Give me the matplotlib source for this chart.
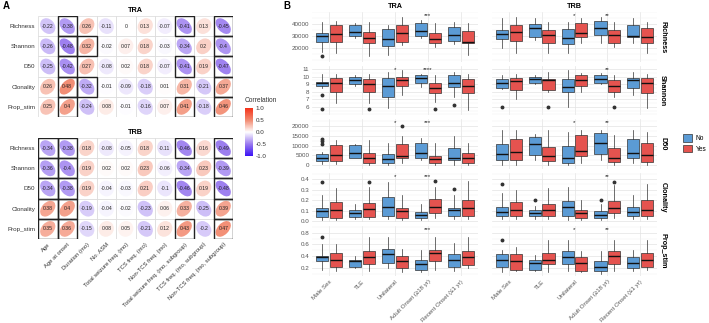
import numpy as np
import matplotlib
matplotlib.use('Agg')
import matplotlib.pyplot as plt
from matplotlib.patches import Ellipse, Rectangle, Patch
from matplotlib.colors import LinearSegmentedColormap, Normalize
from matplotlib.ticker import AutoMinorLocator
import matplotlib.cm as cm

plt.rcParams['font.family'] = ['Liberation Sans', 'DejaVu Sans']

# ---- panel A data ----
metrics = ['Richness', 'Shannon', 'D50', 'Clonality', 'Prop_stim']
clinical = ['Age', 'Age at onset', 'Duration (mo)', 'No. ASM', 'Total seizure freq. (mo)',
            'TCS freq. (mo)', 'Non-TCS freq. (mo)', 'Total seizure freq. (mo, subgroup)',
            'TCS freq. (mo, subgroup)', 'Non-TCS freq. (mo, subgroup)']

tra_corr = [
    [-0.22, -0.38, 0.26, -0.11, 0, 0.13, -0.07, -0.41, 0.13, -0.45],
    [-0.26, -0.48, 0.32, -0.02, 0.07, 0.18, -0.03, -0.34, 0.2, -0.4],
    [-0.25, -0.42, 0.27, -0.08, 0.02, 0.18, -0.07, -0.41, 0.19, -0.47],
    [0.26, 0.48, -0.32, -0.01, -0.09, -0.18, 0.01, 0.31, -0.21, 0.37],
    [0.25, 0.4, -0.24, 0.08, -0.01, -0.16, 0.07, 0.41, -0.18, 0.46],
]
trb_corr = [
    [-0.34, -0.38, 0.18, -0.08, -0.05, 0.18, -0.11, -0.46, 0.16, -0.49],
    [-0.36, -0.4, 0.19, 0.02, 0.02, 0.23, -0.06, -0.34, 0.23, -0.39],
    [-0.34, -0.38, 0.19, -0.04, -0.03, 0.21, -0.1, -0.46, 0.19, -0.48],
    [0.38, 0.4, -0.19, -0.04, -0.02, -0.23, 0.06, 0.33, -0.25, 0.39],
    [0.35, 0.36, -0.15, 0.08, 0.05, -0.21, 0.12, 0.43, -0.2, 0.47],
]
tra_sig = [
    [0, 1, 0, 0, 0, 0, 0, 1, 0, 1],
    [0, 1, 1, 0, 0, 0, 0, 0, 0, 1],
    [0, 1, 0, 0, 0, 0, 0, 1, 0, 1],
    [0, 1, 1, 0, 0, 0, 0, 0, 0, 1],
    [0, 1, 0, 0, 0, 0, 0, 1, 0, 1],
]
trb_sig = [
    [1, 1, 0, 0, 0, 0, 0, 1, 0, 1],
    [1, 1, 0, 0, 0, 0, 0, 0, 0, 1],
    [1, 1, 0, 0, 0, 0, 0, 1, 0, 1],
    [1, 1, 0, 0, 0, 0, 0, 0, 0, 1],
    [1, 1, 0, 0, 0, 0, 0, 1, 0, 1],
]

# ---- panel B data: (whislo, q1, med, q3, whishi) for No / Yes per category ----
categories = ['Male Sex', 'TLE', 'Unilateral', 'Adult Onset (≥18 yr)', 'Recent Onset (≤1 yr)']
groups = ['No', 'Yes']

tra_richness = [
    [(16700, 25000, 30000, 32500, 41700), (16000, 25000, 31700, 39000, 42500)],
    [(28500, 30000, 33300, 39500, 40500), (13300, 24000, 28300, 33300, 41700)],
    [(14000, 21700, 27500, 35800, 39000), (22500, 25000, 32500, 39000, 45800)],
    [(28000, 30000, 34000, 40800, 43000), (21000, 24000, 27500, 32500, 40800)],
    [(23000, 25800, 30800, 37500, 41700), (14000, 24000, 25000, 34000, 40800)],
]
tra_shannon = [
    [(8.5, 8.75, 9.1, 9.25, 10.3), (6.5, 8.0, 9.1, 9.8, 10.4)],
    [(8.8, 9.0, 9.5, 10.0, 10.2), (6.5, 8.0, 9.0, 9.7, 10.4)],
    [(5.9, 7.3, 8.7, 9.8, 10.6), (7.6, 8.8, 9.6, 10.0, 10.9)],
    [(8.6, 9.2, 9.8, 10.2, 10.4), (6.7, 7.8, 8.5, 9.2, 10.2)],
    [(7.3, 8.6, 9.2, 10.2, 10.6), (5.6, 7.8, 8.8, 9.7, 10.4)],
]
tra_d50 = [
    [(500, 2000, 3900, 5900, 6800), (500, 2000, 5400, 10200, 12700)],
    [(3500, 3900, 6300, 10200, 11000), (0, 1000, 3900, 6300, 13000)],
    [(0, 1000, 2900, 5900, 11200), (1000, 3400, 4900, 10700, 14600)],
    [(2400, 3900, 6300, 11200, 13700), (0, 1000, 2900, 4900, 11200)],
    [(0, 2400, 3900, 8800, 14600), (0, 1000, 3900, 6300, 11200)],
]
tra_clonality = [
    [(0.01, 0.04, 0.10, 0.13, 0.25), (0.01, 0.03, 0.11, 0.18, 0.32)],
    [(0.02, 0.04, 0.08, 0.11, 0.16), (0.02, 0.04, 0.12, 0.17, 0.33)],
    [(0.02, 0.05, 0.14, 0.23, 0.37), (0.01, 0.03, 0.10, 0.13, 0.25)],
    [(0.01, 0.03, 0.06, 0.09, 0.16), (0.03, 0.08, 0.14, 0.21, 0.33)],
    [(0.02, 0.05, 0.11, 0.13, 0.25), (0.02, 0.05, 0.13, 0.20, 0.38)],
]
tra_prop = [
    [(0.17, 0.31, 0.38, 0.41, 0.60), (0.15, 0.22, 0.34, 0.46, 0.60)],
    [(0.20, 0.22, 0.31, 0.34, 0.40), (0.14, 0.26, 0.38, 0.48, 0.73)],
    [(0.20, 0.29, 0.43, 0.53, 0.73), (0.12, 0.19, 0.31, 0.41, 0.53)],
    [(0.12, 0.17, 0.26, 0.34, 0.51), (0.17, 0.31, 0.46, 0.50, 0.73)],
    [(0.14, 0.22, 0.33, 0.43, 0.63), (0.20, 0.24, 0.39, 0.48, 0.73)],
]
trb_richness = [
    [(20000, 27500, 31700, 35000, 45000), (15800, 25800, 33300, 39000, 45800)],
    [(26700, 29000, 36700, 40000, 45000), (15800, 24000, 30800, 35000, 41700)],
    [(15800, 23300, 28300, 35800, 41700), (24000, 29200, 32500, 40800, 45000)],
    [(24000, 30800, 36700, 42500, 45800), (21000, 24000, 30800, 35000, 41700)],
    [(24000, 29000, 30000, 39000, 45000), (15800, 24000, 29000, 36700, 41700)],
]
trb_shannon = [
    [(8.4, 8.5, 9.1, 9.7, 10.2), (7.1, 8.2, 9.4, 9.8, 10.4)],
    [(9.0, 9.2, 9.7, 10.0, 10.2), (8.0, 8.2, 9.6, 9.7, 10.6)],
    [(6.0, 7.9, 8.6, 9.7, 10.9), (7.9, 8.8, 9.6, 10.2, 10.5)],
    [(9.0, 9.2, 9.7, 10.2, 10.5), (7.3, 8.0, 8.8, 9.6, 10.2)],
    [(7.6, 8.5, 9.6, 9.8, 10.6), (5.9, 7.8, 9.1, 9.8, 10.4)],
]
trb_d50 = [
    [(0, 2400, 5900, 10700, 18000), (0, 2400, 6800, 13200, 18000)],
    [(2400, 5400, 10700, 14100, 16100), (0, 2000, 4900, 9300, 18000)],
    [(0, 1000, 3900, 9800, 17000), (1000, 4900, 7300, 15600, 18000)],
    [(2400, 5900, 11200, 16600, 18000), (0, 1500, 3900, 8800, 15600)],
    [(1000, 3400, 6300, 13200, 18000), (0, 1500, 5400, 11200, 17000)],
]
trb_clonality = [
    [(0.02, 0.05, 0.09, 0.14, 0.27), (0.02, 0.05, 0.11, 0.18, 0.30)],
    [(0.02, 0.05, 0.08, 0.11, 0.15), (0.02, 0.05, 0.11, 0.16, 0.32)],
    [(0.01, 0.05, 0.14, 0.19, 0.33), (0.01, 0.03, 0.08, 0.11, 0.20)],
    [(0.01, 0.03, 0.06, 0.10, 0.16), (0.03, 0.08, 0.13, 0.19, 0.34)],
    [(0.02, 0.05, 0.09, 0.14, 0.25), (0.02, 0.05, 0.11, 0.20, 0.35)],
]
trb_prop = [
    [(0.12, 0.22, 0.33, 0.43, 0.51), (0.14, 0.17, 0.31, 0.43, 0.55)],
    [(0.14, 0.17, 0.29, 0.34, 0.42), (0.12, 0.26, 0.33, 0.46, 0.68)],
    [(0.14, 0.26, 0.39, 0.48, 0.68), (0.12, 0.14, 0.29, 0.38, 0.48)],
    [(0.10, 0.14, 0.22, 0.31, 0.48), (0.14, 0.26, 0.41, 0.48, 0.68)],
    [(0.14, 0.19, 0.29, 0.39, 0.51), (0.17, 0.22, 0.34, 0.46, 0.68)],
]

# outliers: (category index, group index, value)
tra_outliers = {
    'Richness': [(0, 0, 13000)],
    'Shannon': [(0, 0, 7.6), (0, 0, 5.7), (1, 1, 5.7), (3, 1, 5.7), (4, 0, 6.3)],
    'D50': [(0, 0, 10700), (0, 0, 12200), (0, 0, 13100), (2, 1, 20000)],
    'Clonality': [(0, 0, 0.37), (1, 1, 0.37), (3, 1, 0.38), (4, 0, 0.31)],
    'Prop_stim': [(0, 0, 0.73)],
}
trb_outliers = {
    'Richness': [],
    'Shannon': [(0, 0, 6.0), (1, 1, 6.0), (3, 1, 6.0)],
    'D50': [],
    'Clonality': [(0, 0, 0.35), (1, 0, 0.20), (3, 0, 0.20), (3, 1, 0.37)],
    'Prop_stim': [(0, 0, 0.68)],
}

# significance marks: (metric, category index, label)
tra_stars = [('Richness', 3, '***'), ('Shannon', 2, '*'), ('Shannon', 3, '****'),
             ('D50', 2, '*'), ('D50', 3, '***'), ('Clonality', 2, '*'),
             ('Clonality', 3, '***'), ('Prop_stim', 3, '***')]
trb_stars = [('Richness', 2, '*'), ('Richness', 3, '**'), ('Shannon', 3, '**'),
             ('D50', 2, '*'), ('D50', 3, '**'), ('Clonality', 3, '**'),
             ('Prop_stim', 2, '*'), ('Prop_stim', 3, '**')]

row_ticks = [[20000, 30000, 40000], [6, 7, 8, 9, 10, 11], [0, 5000, 10000, 15000, 20000],
             [0.0, 0.1, 0.2, 0.3, 0.4], [0.2, 0.4, 0.6, 0.8]]
row_lims = [(8700, 50000), (4.9, 11.45), (-1850, 23400), (-0.01, 0.46), (0.06, 0.91)]
row_fmt = ['{:.0f}', '{:.0f}', '{:.0f}', '{:.1f}', '{:.1f}']

W, H = 709, 323
fig = plt.figure(figsize=(W / 100, H / 100), dpi=100)
fig.patch.set_facecolor('white')


def add_ax(left, top, right, bottom):
    return fig.add_axes([left / W, 1 - bottom / H, (right - left) / W, (bottom - top) / H])


cmap = LinearSegmentedColormap.from_list(
    'corr', ['#3a12f5', '#9a7bef', '#ffffff', '#f28a70', '#f5321a'])
TXT = '#333333'


def draw_corr(ax, vals, sig, title, show_x):
    n = len(metrics)
    for i, row in enumerate(vals):
        y = n - 1 - i
        for j, r in enumerate(row):
            ax.add_patch(Rectangle((j - 0.5, y - 0.5), 1, 1, fc='white', ec='#d9d9d9', lw=0.5))
            ax.add_patch(Ellipse((j, y), width=0.78 * np.sqrt(1 + abs(r)),
                                 height=0.78 * np.sqrt(1 - abs(r)),
                                 angle=45 if r > 0 else -45,
                                 fc=cmap((r + 1) / 2), ec='none'))
            ax.text(j, y, f'{r:g}', ha='center', va='center', fontsize=3.7, color='#222222')
    for i, row in enumerate(sig):
        y = n - 1 - i
        for j, s in enumerate(row):
            if s:
                ax.add_patch(Rectangle((j - 0.5, y - 0.5), 1, 1, fill=False, ec='#222222', lw=1.0, zorder=5))
    ax.set_xlim(-0.5, len(clinical) - 0.5)
    ax.set_ylim(-0.5, n - 0.5)
    ax.set_yticks(range(n))
    ax.set_yticklabels(metrics[::-1], fontsize=4.5, color=TXT)
    ax.set_xticks(range(len(clinical)))
    if show_x:
        ax.set_xticklabels(clinical, rotation=45, ha='right', va='top',
                           rotation_mode='anchor', fontsize=4.2, color=TXT)
    else:
        ax.set_xticklabels([])
    ax.tick_params(length=0, pad=2)
    for s in ax.spines.values():
        s.set_visible(False)
    ax.set_title(title, fontsize=5.2, fontweight='bold', pad=3)


ax_tra = add_ax(38, 16, 233, 117)
draw_corr(ax_tra, tra_corr, tra_sig, 'TRA', False)
ax_trb = add_ax(38, 138, 233, 239)
draw_corr(ax_trb, trb_corr, trb_sig, 'TRB', True)

cax = add_ax(245, 108, 253, 156)
cb = fig.colorbar(cm.ScalarMappable(norm=Normalize(-1, 1), cmap=cmap), cax=cax)
cb.outline.set_visible(False)
cb.set_ticks([-1, -0.5, 0, 0.5, 1])
cb.set_ticklabels(['-1.0', '-0.5', '0.0', '0.5', '1.0'])
cax.tick_params(labelsize=4.5, length=0, pad=2, colors=TXT)
fig.text(245 / W, 1 - 100 / H, 'Correlation', fontsize=4.8, color=TXT, va='center')

fig.text(3 / W, 1 - 6 / H, 'A', fontsize=7, fontweight='bold', va='center')
fig.text(283 / W, 1 - 6 / H, 'B', fontsize=7, fontweight='bold', va='center')

# ---- panel B ----
col_x = [(312, 478), (492, 657)]
row_y = [(12, 61.6), (65.6, 115.2), (119.2, 168.8), (172.8, 222.4), (226.4, 276)]
chains = ['TRA', 'TRB']
box_data = {
    'TRA': [tra_richness, tra_shannon, tra_d50, tra_clonality, tra_prop],
    'TRB': [trb_richness, trb_shannon, trb_d50, trb_clonality, trb_prop],
}
outliers = {'TRA': tra_outliers, 'TRB': trb_outliers}
stars = {'TRA': tra_stars, 'TRB': trb_stars}
colors = ['#5b9bd5', '#e5534f']
offset = 0.205

for c, chain in enumerate(chains):
    for r, metric in enumerate(metrics):
        ax = add_ax(col_x[c][0], row_y[r][0], col_x[c][1], row_y[r][1])
        stats, pos, cols = [], [], []
        for k, pair in enumerate(box_data[chain][r]):
            for g, (lo, q1, med, q3, hi) in enumerate(pair):
                fl = [v for (ci, gi, v) in outliers[chain][metric] if ci == k and gi == g]
                stats.append(dict(whislo=lo, q1=q1, med=med, q3=q3, whishi=hi, fliers=fl))
                pos.append(k + 1 + (offset if g else -offset))
                cols.append(colors[g])
        bp = ax.bxp(stats, positions=pos, widths=0.37, patch_artist=True, showcaps=False,
                    boxprops=dict(lw=0.5, ec='#333333'),
                    medianprops=dict(color='#111111', lw=1.0),
                    whiskerprops=dict(color='#333333', lw=0.5),
                    flierprops=dict(marker='o', ms=1.8, mfc='#333333', mec='#333333'))
        for patch, col in zip(bp['boxes'], cols):
            patch.set_facecolor(col)
        for metric_s, k, lab in stars[chain]:
            if metric_s == metric:
                ax.text(k + 1, 0.93, lab, transform=ax.get_xaxis_transform(),
                        ha='center', va='center', fontsize=4.5, color='#222222')
        ax.set_xlim(0.48, 5.52)
        ax.set_ylim(*row_lims[r])
        ax.set_yticks(row_ticks[r])
        ax.yaxis.set_minor_locator(AutoMinorLocator(2))
        ax.set_xticks(range(1, 6))
        ax.grid(True, which='major', color='#e3e3e3', lw=0.5)
        ax.grid(True, which='minor', axis='y', color='#f0f0f0', lw=0.35)
        ax.set_axisbelow(True)
        for s in ax.spines.values():
            s.set_visible(False)
        ax.tick_params(which='both', length=0, pad=2, labelsize=4.5, colors='#555555')
        if c == 0:
            ax.set_yticklabels([row_fmt[r].format(t) for t in row_ticks[r]])
        else:
            ax.set_yticklabels([])
        if r == len(metrics) - 1:
            ax.set_xticklabels(categories, rotation=45, ha='right', va='top',
                               rotation_mode='anchor', fontsize=4.4, color='#555555')
        else:
            ax.set_xticklabels([])
        if r == 0:
            ax.set_title(chain, fontsize=5.2, fontweight='bold', pad=3)
        if c == 1:
            ax.text(1.035, 0.5, metric, transform=ax.transAxes, rotation=270,
                    ha='center', va='center', fontsize=5.2, fontweight='bold')

handles = [Patch(fc=colors[0], ec='#333333', lw=0.5), Patch(fc=colors[1], ec='#333333', lw=0.5)]
fig.legend(handles, groups, loc='upper left', bbox_to_anchor=(680 / W, 1 - 131 / H),
           frameon=False, fontsize=4.8, handlelength=1.3, handleheight=1.3,
           handletextpad=0.6, labelspacing=0.4, borderpad=0)

fig.savefig('out.png', dpi=100, facecolor='white')
